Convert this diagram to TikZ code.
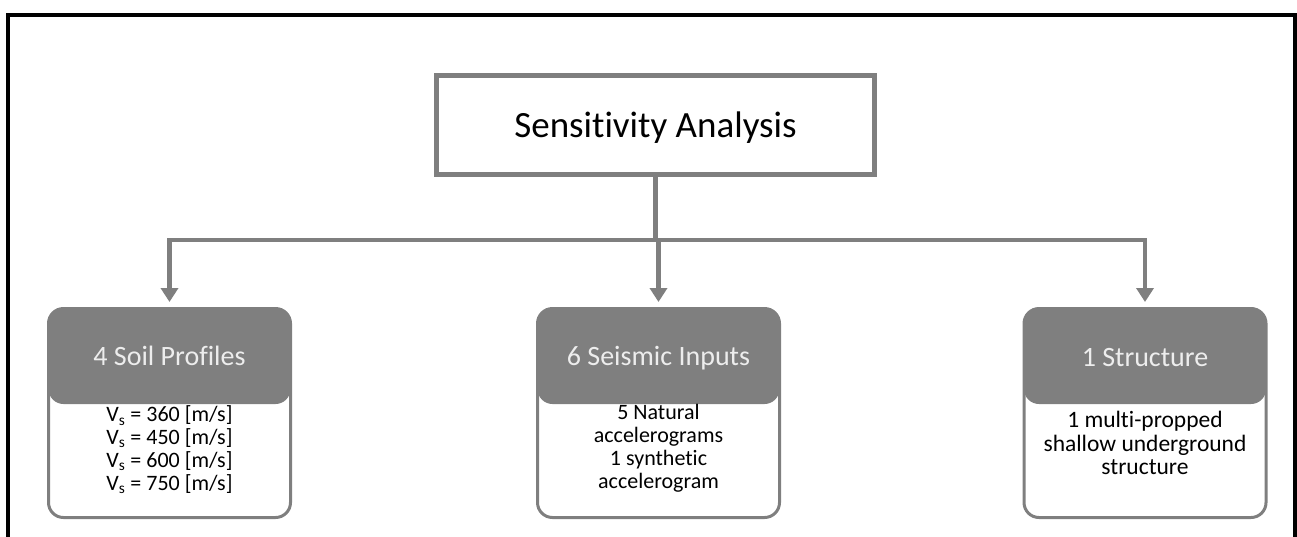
\documentclass[tikz,border=0pt]{standalone}
\usepackage{fontspec}
\setmainfont{Carlito}[Ligatures={NoCommon}]
\usetikzlibrary{arrows.meta,calc}
\definecolor{gr}{HTML}{7F7F7F}
\definecolor{hdtxt}{HTML}{EDEDED}
\begin{document}
\begin{tikzpicture}[x=1pt,y=-1pt,
  conn/.style={draw=gr,line width=4.5pt},
  arr/.style={conn,-{Triangle[width=17pt,length=14pt]},shorten >=5pt},
  topbox/.style={draw=gr,line width=5pt,minimum width=438pt,minimum height=99pt,inner sep=0pt,
    font=\fontsize{37}{44}\selectfont},
  catbox/.style={draw=gr,line width=3pt,rounded corners=15pt,minimum width=242pt,
    minimum height=209pt,inner sep=0pt,
    path picture={\fill[gr] ([yshift=2pt]path picture bounding box.north west)
      rectangle ([yshift=-95.5pt]path picture bounding box.north east);}},
  hdr/.style={text=hdtxt,anchor=base,inner sep=0pt,font=\fontsize{28}{34}\selectfont},
  body/.style={text=black,anchor=base,inner sep=0pt,align=center,
    font=\fontsize{22}{22.7}\selectfont}]
\useasboundingbox (0,0) rectangle (1297,536);
% outer frame
\draw[line width=4pt] (8,540) -- (8,14.5) -- (1295,14.5) -- (1295,540);
% top box
\node[topbox] (sa) at (655.5,125) {};
\node[anchor=base,inner sep=0pt,font=\fontsize{37}{44}\selectfont] (satext) at (655.5,137) {Sensitivity Analysis};
% category boxes
\node[catbox] (soil) at (169.5,413) {};
\node[catbox] (seis) at (658.5,413) {};
\node[catbox] (struc) at (1145,413) {};
\node[hdr] (soilh) at (169.5,365) {4 Soil Profiles};
\node[hdr] (seish) at (658.5,365) {6 Seismic Inputs};
\node[hdr] (struch) at (1145,366) {1 Structure};
\node[body] (soilb) at (169.5,490) {V\textsubscript{s} = 360 [m/s]\\V\textsubscript{s} = 450 [m/s]\\V\textsubscript{s} = 600 [m/s]\\V\textsubscript{s} = 750 [m/s]};
\node[body] (seisb) at (658.5,488) {5 Natural\\accelerograms\\1 synthetic\\accelerogram};
\node[body,font=\fontsize{23.5}{23.3}\selectfont] (strucb) at (1145,474.5) {1 multi-propped\\shallow underground\\structure};
% connectors
\coordinate (j) at (655.5,240);
\draw[conn] (sa.south) -- (j);
\draw[arr] (j) -| (soil.north);
\draw[arr] (j) -| (struc.north);
\draw[arr] (j) -- (j -| seis.north) -- (seis.north);
\end{tikzpicture}
\end{document}
